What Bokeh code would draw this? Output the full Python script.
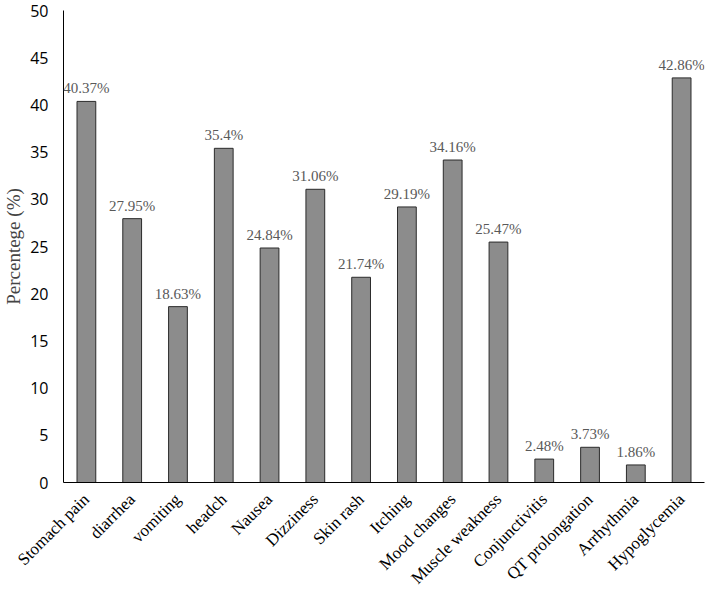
import math
from bokeh.plotting import figure
from bokeh.models import ColumnDataSource, Range1d, FactorRange, LabelSet
from bokeh.embed import file_html
from bokeh.resources import INLINE

categories = ["Stomach pain", "diarrhea", "vomiting", "headch", "Nausea", "Dizziness",
              "Skin rash", "Itching", "Mood changes", "Muscle weakness", "Conjunctivitis",
              "QT prolongation", "Arrhythmia", "Hypoglycemia"]
values = [40.37, 27.95, 18.63, 35.4, 24.84, 31.06, 21.74, 29.19, 34.16, 25.47, 2.48, 3.73, 1.86, 42.86]
labels = ["40.37%", "27.95%", "18.63%", "35.4%", "24.84%", "31.06%", "21.74%", "29.19%",
          "34.16%", "25.47%", "2.48%", "3.73%", "1.86%", "42.86%"]
y_ticks = [0, 5, 10, 15, 20, 25, 30, 35, 40, 45, 50]

src = ColumnDataSource(dict(cat=categories, val=values, lab=labels))

p = figure(frame_width=641, frame_height=472, x_range=FactorRange(*categories, range_padding=0),
           y_range=Range1d(0, 50), output_backend="svg", toolbar_location=None,
           min_border_left=55, min_border_right=2, min_border_top=10, min_border_bottom=20)
p.outline_line_color = None
p.xgrid.grid_line_color = None
p.ygrid.grid_line_color = None

p.vbar(x="cat", top="val", width=0.41, source=src, fill_color="#8c8c8c",
       line_color="#2b2b2b", line_width=1)

p.add_layout(LabelSet(x="cat", y="val", text="lab", source=src, text_align="center",
                      text_baseline="bottom", y_offset=5, text_font="Liberation Serif",
                      text_font_size="15px", text_color="#595959"))

p.yaxis.ticker = y_ticks
p.yaxis.major_tick_line_color = None
p.yaxis.minor_tick_line_color = None
p.yaxis.major_tick_out = 0
p.yaxis.major_label_standoff = 15
p.yaxis.major_label_text_font = "Open Sans"
p.yaxis.major_label_text_font_size = "16px"
p.yaxis.major_label_text_color = "#000000"
p.yaxis.axis_line_color = "#000000"
p.yaxis.axis_label = "Percentege (%)"
p.yaxis.axis_label_text_font = "Liberation Serif"
p.yaxis.axis_label_text_font_style = "normal"
p.yaxis.axis_label_text_font_size = "19px"
p.yaxis.axis_label_standoff = 3

p.xaxis.major_tick_line_color = None
p.xaxis.minor_tick_line_color = None
p.xaxis.major_tick_out = 0
p.xaxis.axis_line_color = "#000000"
p.xaxis.major_label_orientation = math.pi / 4
p.xaxis.major_label_standoff = 14
p.xaxis.major_label_text_font = "Liberation Serif"
p.xaxis.major_label_text_font_size = "17px"
p.xaxis.major_label_text_color = "#000000"

open("out.html", "w").write(file_html(p, INLINE))
